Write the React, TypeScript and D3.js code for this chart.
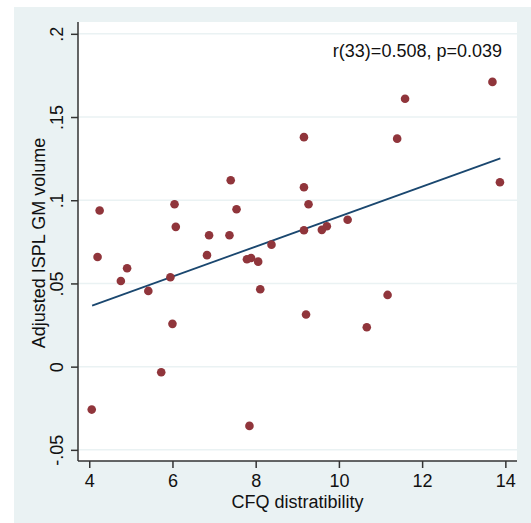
import React, { useEffect, useRef } from "react";
import * as d3 from "d3";

// CFQ distractibility vs adjusted ISPL GM volume
const cfqScores = [
  4.06, 4.2, 4.25, 4.76, 4.91, 5.42, 5.73, 5.95, 6.0, 6.05, 6.08, 6.83,
  6.88, 7.37, 7.4, 7.54, 7.79, 7.89, 7.85, 8.06, 8.11, 8.38, 9.16, 9.16,
  9.27, 9.16, 9.21, 9.59, 9.71, 10.21, 10.67, 11.17, 11.4, 11.59, 13.69, 13.87,
];
const gmVolume = [
  -0.0258, 0.0659, 0.0938, 0.0515, 0.0591, 0.0455, -0.0034, 0.0537, 0.0257,
  0.0976, 0.084, 0.067, 0.079, 0.079, 0.112, 0.0946, 0.0645, 0.0653, -0.0356,
  0.0631, 0.0465, 0.0733, 0.1379, 0.1078, 0.0976, 0.082, 0.0313, 0.0822,
  0.0844, 0.0883, 0.0237, 0.0431, 0.137, 0.161, 0.1711, 0.1108,
];
// fitted line ends
const fitX = [4.07, 13.88];
const fitY = [0.0367, 0.1252];

const xTicks = [4, 6, 8, 10, 12, 14];
const yTicks = [-0.05, 0, 0.05, 0.1, 0.15, 0.2];
const yTickLabels = ["-.05", "0", ".05", ".1", ".15", ".2"];

const statsText = "r(33)=0.508, p=0.039";
const xTitle = "CFQ distratibility";
const yTitle = "Adjusted ISPL GM volume";

const W = 531;
const H = 523;
const plot = { left: 78, right: 517, top: 22, bottom: 461 };
const font = "'Liberation Sans', Arial, sans-serif";

export default function App() {
  const ref = useRef<SVGSVGElement>(null);

  useEffect(() => {
    const svg = d3.select(ref.current);
    svg.selectAll("*").remove();

    const x = d3.scaleLinear().domain([3.73, 14.28]).range([plot.left, plot.right]);
    const y = d3.scaleLinear().domain([-0.0567, 0.2071]).range([plot.bottom, plot.top]);

    // graph region + plot region
    svg.append("rect").attr("x", 14).attr("y", 7).attr("width", W - 14).attr("height", H - 7)
      .attr("fill", "#eaf2f3");
    svg.append("rect").attr("x", plot.left).attr("y", plot.top)
      .attr("width", plot.right - plot.left).attr("height", plot.bottom - plot.top)
      .attr("fill", "#ffffff");

    // grid
    svg.selectAll(".grid").data(yTicks).enter().append("line")
      .attr("class", "grid")
      .attr("x1", plot.left).attr("x2", plot.right)
      .attr("y1", d => y(d)).attr("y2", d => y(d))
      .attr("stroke", "#eaf2f3").attr("stroke-width", 1.5);

    // x axis
    const xAxis = svg.append("g")
      .attr("transform", `translate(0, ${plot.bottom})`)
      .call(d3.axisBottom(x).tickValues(xTicks).tickSize(7).tickSizeOuter(0).tickPadding(6));
    xAxis.select(".domain").attr("stroke", "#333").attr("stroke-width", 1.5)
      .attr("d", `M${plot.left},0H${plot.right}`);
    xAxis.selectAll(".tick line").attr("stroke", "#333").attr("stroke-width", 1.5);
    xAxis.selectAll(".tick text").attr("font-family", font).attr("font-size", 18).attr("fill", "#111");

    // y axis
    const yAxis = svg.append("g")
      .attr("transform", `translate(${plot.left}, 0)`)
      .call(d3.axisLeft(y).tickValues(yTicks).tickSize(7).tickSizeOuter(0)
        .tickFormat((d, i) => yTickLabels[i]));
    yAxis.select(".domain").attr("stroke", "#333").attr("stroke-width", 1.5)
      .attr("d", `M0,${plot.top}V${plot.bottom}`);
    yAxis.selectAll(".tick line").attr("stroke", "#333").attr("stroke-width", 1.5);
    yAxis.selectAll(".tick text")
      .attr("font-family", font).attr("font-size", 18).attr("fill", "#111")
      .attr("x", null).attr("dy", null)
      .attr("text-anchor", "middle")
      .attr("transform", "translate(-15,0) rotate(-90)");

    // fit line
    svg.append("line")
      .attr("x1", x(fitX[0])).attr("y1", y(fitY[0]))
      .attr("x2", x(fitX[1])).attr("y2", y(fitY[1]))
      .attr("stroke", "#1a476f").attr("stroke-width", 1.8);

    // points
    svg.selectAll(".pt").data(cfqScores).enter().append("circle")
      .attr("class", "pt")
      .attr("cx", d => x(d))
      .attr("cy", (d, i) => y(gmVolume[i]))
      .attr("r", 4.3)
      .attr("fill", "#90353b");

    // annotation
    svg.append("text").attr("x", 502).attr("y", 57)
      .attr("text-anchor", "end").attr("font-family", font).attr("font-size", 18)
      .attr("fill", "#111").text(statsText);

    // titles
    svg.append("text").attr("x", (plot.left + plot.right) / 2).attr("y", 508)
      .attr("text-anchor", "middle").attr("font-family", font).attr("font-size", 18)
      .attr("fill", "#111").text(xTitle);
    svg.append("text")
      .attr("transform", `translate(45, 243) rotate(-90)`)
      .attr("text-anchor", "middle").attr("font-family", font).attr("font-size", 18)
      .attr("fill", "#111").text(yTitle);
  }, []);

  return (
    <div style={{ position: "absolute", left: 0, top: 0 }}>
      <svg ref={ref} width={W} height={H} style={{ display: "block", background: "#fff" }} />
    </div>
  );
}
